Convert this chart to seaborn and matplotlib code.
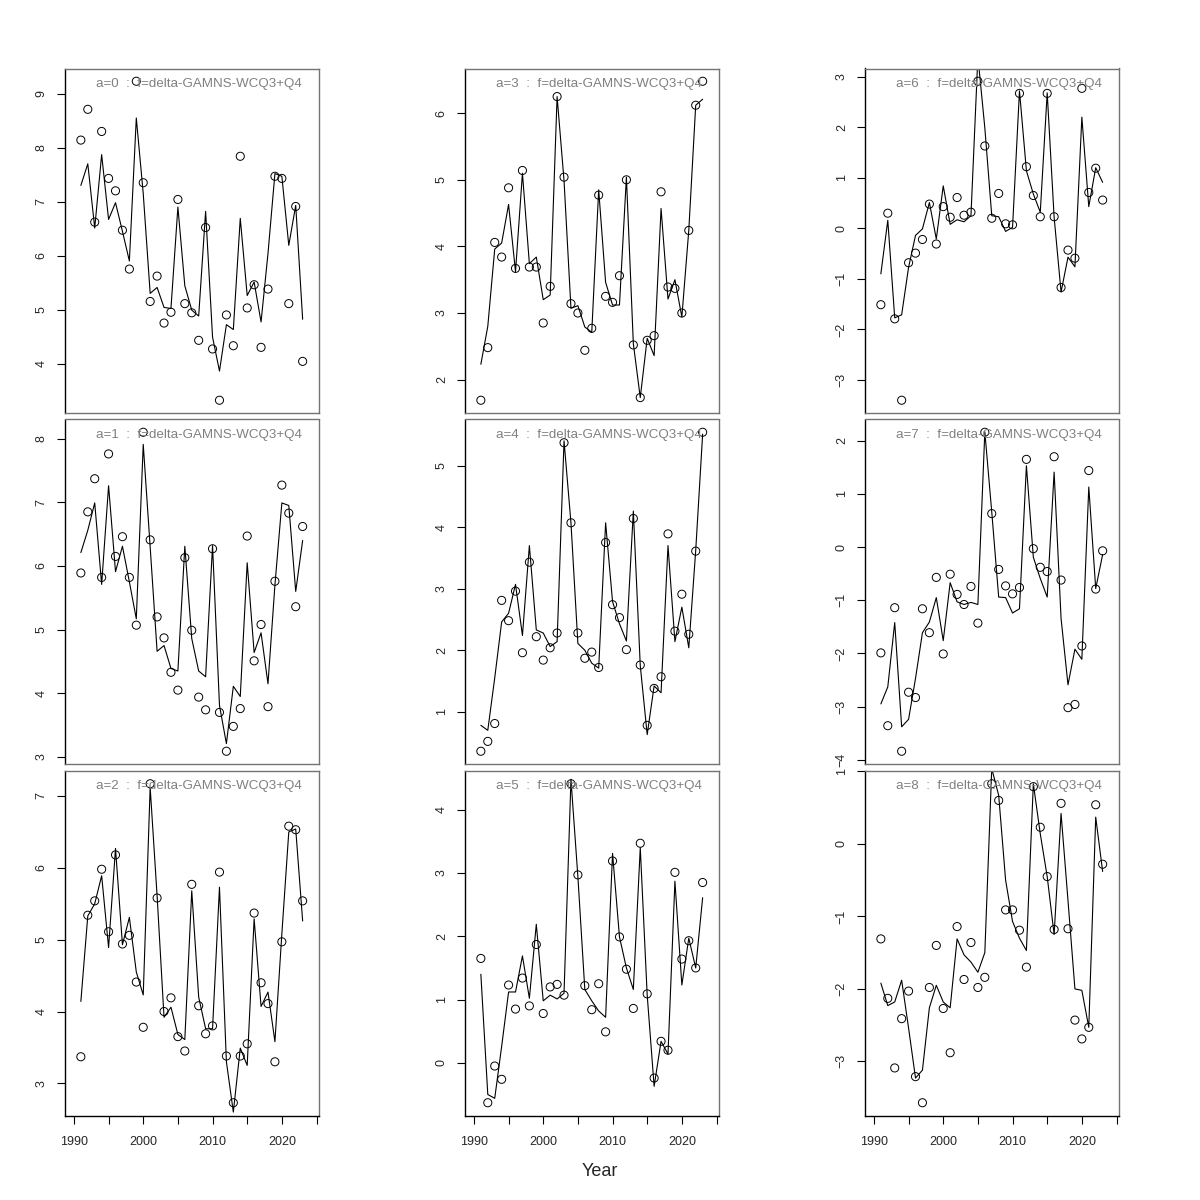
import numpy as np
import pandas as pd
import seaborn as sns
import matplotlib.pyplot as plt
from matplotlib.ticker import MultipleLocator, FixedLocator

sns.set_style("white")
plt.rcParams['font.family'] = ['Liberation Sans', 'DejaVu Sans']

# anos
years = list(range(1991, 2024))

# a=0
obs_a0 = [8.14, 8.71, 6.62, 8.30, 7.43, 7.20, 6.47, 5.75, 9.23, 7.35, 5.15, 5.62, 4.75, 4.95, 7.04, 5.11, 4.94,
          4.43, 6.52, 4.27, 3.32, 4.90, 4.33, 7.84, 5.03, 5.46, 4.30, 5.38, 7.47, 7.43, 5.11, 6.91, 4.04]
fit_a0 = [7.30, 7.70, 6.51, 7.87, 6.67, 6.98, 6.45, 5.90, 8.55, 7.15, 5.30, 5.41, 5.04, 5.02, 6.90, 5.44, 4.99,
          4.88, 6.82, 4.49, 3.86, 4.72, 4.63, 6.69, 5.26, 5.51, 4.77, 6.04, 7.52, 7.47, 6.19, 6.93, 4.82]
# a=1
obs_a1 = [5.89, 6.85, 7.37, 5.82, 7.76, 6.15, 6.46, 5.82, 5.07, 8.10, 6.41, 5.20, 4.87, 4.33, 4.05, 6.13, 4.99,
          3.94, 3.74, 6.27, 3.70, 3.09, 3.48, 3.76, 6.47, 4.51, 5.08, 3.79, 5.76, 7.27, 6.83, 5.36, 6.62]
fit_a1 = [6.21, 6.56, 6.99, 5.71, 7.26, 5.91, 6.31, 5.75, 5.17, 7.91, 6.30, 4.66, 4.75, 4.39, 4.35, 6.31, 4.86,
          4.35, 4.26, 6.32, 3.81, 3.21, 4.11, 3.95, 6.05, 4.64, 4.95, 4.15, 5.70, 6.99, 6.95, 5.60, 6.40]
# a=2
obs_a2 = [3.37, 5.34, 5.54, 5.98, 5.11, 6.18, 4.94, 5.06, 4.41, 3.78, 7.17, 5.58, 4.00, 4.19, 3.65, 3.45, 5.77,
          4.08, 3.69, 3.80, 5.94, 3.38, 2.73, 3.38, 3.55, 5.37, 4.40, 4.11, 3.30, 4.97, 6.58, 6.53, 5.54]
fit_a2 = [4.14, 5.33, 5.50, 5.89, 4.89, 6.27, 4.93, 5.31, 4.55, 4.23, 7.12, 5.61, 3.92, 4.06, 3.68, 3.61, 5.68,
          4.20, 3.76, 3.76, 5.73, 3.30, 2.60, 3.49, 3.25, 5.29, 4.07, 4.27, 3.58, 5.08, 6.50, 6.54, 5.26]
# a=3
obs_a3 = [1.69, 2.48, 4.06, 3.84, 4.88, 3.67, 5.14, 3.69, 3.69, 2.85, 3.40, 6.25, 5.04, 3.14, 3.00, 2.44, 2.77,
          4.77, 3.25, 3.16, 3.56, 5.00, 2.52, 1.73, 2.59, 2.66, 4.82, 3.39, 3.37, 3.00, 4.24, 6.12, 6.48]
fit_a3 = [2.23, 2.80, 3.96, 4.05, 4.63, 3.62, 5.10, 3.74, 3.84, 3.20, 3.27, 6.25, 4.99, 3.07, 3.11, 2.79, 2.71,
          4.85, 3.46, 3.12, 3.12, 5.04, 2.54, 1.73, 2.62, 2.36, 4.57, 3.21, 3.50, 2.94, 4.24, 6.12, 6.21]
# a=4
obs_a4 = [0.36, 0.52, 0.81, 2.81, 2.48, 2.96, 1.96, 3.43, 2.22, 1.84, 2.04, 2.28, 5.37, 4.07, 2.28, 1.87, 1.97,
          1.72, 3.75, 2.74, 2.53, 2.01, 4.14, 1.76, 0.78, 1.38, 1.57, 3.89, 2.31, 2.91, 2.26, 3.61, 5.54]
fit_a4 = [0.78, 0.70, 1.55, 2.46, 2.60, 3.07, 2.24, 3.70, 2.33, 2.28, 2.06, 2.14, 5.40, 4.07, 2.11, 2.00, 1.79,
          1.71, 4.07, 2.79, 2.43, 2.15, 4.26, 1.75, 0.63, 1.42, 1.31, 3.70, 2.14, 2.70, 2.04, 3.62, 5.51]
# a=5
obs_a5 = [1.65, -0.63, -0.05, -0.26, 1.23, 0.85, 1.34, 0.90, 1.87, 0.78, 1.20, 1.24, 1.07, 4.41, 2.97, 1.22, 0.84,
          1.25, 0.49, 3.19, 1.99, 1.48, 0.86, 3.47, 1.09, -0.24, 0.34, 0.20, 3.01, 1.64, 1.93, 1.50, 2.85]
fit_a5 = [1.40, -0.50, -0.56, 0.26, 1.12, 1.12, 1.69, 1.02, 2.19, 0.98, 1.07, 1.01, 1.10, 4.48, 2.94, 1.16, 0.98,
          0.82, 0.72, 3.31, 1.99, 1.50, 1.16, 3.40, 1.07, -0.37, 0.34, 0.14, 2.87, 1.23, 1.97, 1.50, 2.61]
# a=6
obs_a6 = [-1.51, 0.30, -1.79, -3.40, -0.68, -0.49, -0.22, 0.48, -0.31, 0.43, 0.22, 0.61, 0.26, 0.32, 2.91, 1.63,
          0.20, 0.69, 0.09, 0.07, 2.67, 1.22, 0.65, 0.23, 2.67, 0.23, -1.17, -0.43, -0.59, 2.77, 0.71, 1.19, 0.56]
fit_a6 = [-0.90, 0.16, -1.77, -1.71, -0.77, -0.14, -0.01, 0.51, -0.21, 0.84, 0.08, 0.17, 0.13, 0.25, 3.40, 1.99,
          0.25, 0.23, -0.06, 0.02, 2.72, 1.14, 0.68, 0.32, 2.68, 0.22, -1.26, -0.57, -0.76, 2.20, 0.43, 1.20, 0.91]
# a=7
obs_a7 = [-1.99, -3.36, -1.14, -3.84, -2.73, -2.83, -1.16, -1.61, -0.57, -2.01, -0.51, -0.89, -1.08, -0.74, -1.43,
          2.16, 0.63, -0.42, -0.73, -0.88, -0.76, 1.65, -0.03, -0.38, -0.46, 1.70, -0.62, -3.02, -2.96, -1.86, 1.44,
          -0.79, -0.07]
fit_a7 = [-2.95, -2.63, -1.42, -3.38, -3.24, -2.47, -1.61, -1.41, -0.95, -1.76, -0.67, -1.03, -1.08, -1.04, -1.08,
          2.17, 0.66, -0.94, -0.95, -1.24, -1.16, 1.53, -0.19, -0.59, -0.94, 1.41, -1.34, -2.59, -1.92, -2.11, 1.13,
          -0.78, -0.14]
# a=8
obs_a8 = [-1.31, -2.13, -3.09, -2.41, -2.03, -3.21, -3.57, -1.98, -1.40, -2.27, -2.88, -1.14, -1.87, -1.36, -1.98,
          -1.84, 0.83, 0.60, -0.91, -0.91, -1.19, -1.70, 0.79, 0.23, -0.45, -1.18, 0.56, -1.17, -2.43, -2.69, -2.53,
          0.54, -0.28]
fit_a8 = [-1.92, -2.23, -2.18, -1.88, -2.54, -3.23, -3.12, -2.26, -1.95, -2.18, -2.26, -1.31, -1.53, -1.63, -1.77,
          -1.50, 1.04, 0.67, -0.50, -1.07, -1.30, -1.47, 0.83, 0.14, -0.45, -1.25, 0.42, -0.78, -2.00, -2.02, -2.53,
          0.37, -0.38]

obs = [obs_a0, obs_a1, obs_a2, obs_a3, obs_a4, obs_a5, obs_a6, obs_a7, obs_a8]
fit = [fit_a0, fit_a1, fit_a2, fit_a3, fit_a4, fit_a5, fit_a6, fit_a7, fit_a8]

fig = plt.figure(figsize=(12, 12), dpi=100)
W = H = 1200.0
lefts = [64.5, 464.5, 864.5]
tops = [68.5, 419.5, 771.0]
pw, ph = 254.5, 344.5

for a in range(9):
    col, row = a // 3, a % 3
    ax = fig.add_axes([lefts[col] / W, 1 - (tops[row] + ph) / H, pw / W, ph / H])
    df = pd.DataFrame({'Year': years, 'obs': obs[a], 'fit': fit[a]})
    sns.lineplot(data=df, x='Year', y='fit', color='black', lw=0.8, ax=ax)
    sns.scatterplot(data=df, x='Year', y='obs', color='black', facecolor='none',
                    edgecolor='black', s=34, linewidth=0.7, marker='o', ax=ax)
    # limites como no R (pontos + 4%)
    lo, hi = min(obs[a]), max(obs[a])
    pad = (hi - lo) * 0.04
    ax.set_ylim(lo - pad, hi + pad)
    ax.set_xlim(1990 - 1.36, 2024 + 1.36)
    ax.set_xlabel('')
    ax.set_ylabel('')
    ax.yaxis.set_major_locator(MultipleLocator(1))
    ax.tick_params(axis='y', left=True, length=6, width=0.8, color='black',
                   labelsize=9, labelrotation=90, pad=6)
    for lab in ax.get_yticklabels():
        lab.set_verticalalignment('center')
    for s in ax.spines.values():
        s.set_color('0.45')
        s.set_linewidth(1)
    ax.spines['left'].set_color('black')
    if row == 2:
        ax.xaxis.set_major_locator(FixedLocator(list(range(1990, 2030, 5))))
        ax.set_xticklabels([str(t) if t % 10 == 0 else '' for t in range(1990, 2030, 5)])
        ax.tick_params(axis='x', bottom=True, length=6, width=0.8, color='black',
                       labelsize=9, pad=9)
        ax.spines['bottom'].set_color('black')
    else:
        ax.set_xticks([])
    ax.text(0.932, 0.956, 'a=%d  :  f=delta-GAMNS-WCQ3+Q4' % a, transform=ax.transAxes,
            ha='right', va='center', color='0.5', fontsize=9.6)

fig.text(0.5, 1 - 1172 / H, 'Year', ha='center', va='center', fontsize=13)

fig.savefig('out.png', dpi=100)
